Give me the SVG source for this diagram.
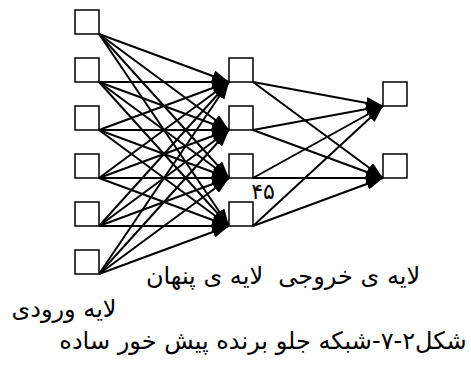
<svg xmlns="http://www.w3.org/2000/svg" width="471" height="365" viewBox="0 0 471 365">
  <style>
    .node { fill: #fff; stroke: #000; stroke-width: 1.5; }
    .edge { stroke: #000; stroke-width: 2; fill: none; marker-end: url(#arrow); }
    text { font-family: "DejaVu Sans", sans-serif; font-size: 24px; fill: #000; text-anchor: middle; }
    .fa { direction: rtl; }
    .num { font-size: 22px; }
  </style>
  <defs>
    <marker id="arrow" markerUnits="userSpaceOnUse" markerWidth="17" markerHeight="12" refX="17" refY="6" orient="auto">
      <path d="M0,0 L17,6 L0,12 z" fill="#000"/>
    </marker>
  </defs>

  <!-- connectors: input -> hidden, hidden -> output -->
  <g id="connectors">
    <line class="edge" x1="99" y1="34" x2="229" y2="82"/>
    <line class="edge" x1="99" y1="34" x2="229" y2="130"/>
    <line class="edge" x1="99" y1="34" x2="229" y2="178"/>
    <line class="edge" x1="99" y1="34" x2="229" y2="226"/>
    <line class="edge" x1="99" y1="82" x2="229" y2="82"/>
    <line class="edge" x1="99" y1="82" x2="229" y2="130"/>
    <line class="edge" x1="99" y1="82" x2="229" y2="178"/>
    <line class="edge" x1="99" y1="82" x2="229" y2="226"/>
    <line class="edge" x1="99" y1="130" x2="229" y2="82"/>
    <line class="edge" x1="99" y1="130" x2="229" y2="130"/>
    <line class="edge" x1="99" y1="130" x2="229" y2="178"/>
    <line class="edge" x1="99" y1="130" x2="229" y2="226"/>
    <line class="edge" x1="99" y1="178" x2="229" y2="82"/>
    <line class="edge" x1="99" y1="178" x2="229" y2="130"/>
    <line class="edge" x1="99" y1="178" x2="229" y2="178"/>
    <line class="edge" x1="99" y1="178" x2="229" y2="226"/>
    <line class="edge" x1="99" y1="226" x2="229" y2="82"/>
    <line class="edge" x1="99" y1="226" x2="229" y2="130"/>
    <line class="edge" x1="99" y1="226" x2="229" y2="178"/>
    <line class="edge" x1="99" y1="226" x2="229" y2="226"/>
    <line class="edge" x1="99" y1="274" x2="229" y2="82"/>
    <line class="edge" x1="99" y1="274" x2="229" y2="130"/>
    <line class="edge" x1="99" y1="274" x2="229" y2="178"/>
    <line class="edge" x1="99" y1="274" x2="229" y2="226"/>

    <line class="edge" x1="253" y1="82" x2="383" y2="106"/>
    <line class="edge" x1="253" y1="82" x2="383" y2="178"/>
    <line class="edge" x1="253" y1="130" x2="383" y2="106"/>
    <line class="edge" x1="253" y1="130" x2="383" y2="178"/>
    <line class="edge" x1="253" y1="178" x2="383" y2="106"/>
    <line class="edge" x1="253" y1="178" x2="383" y2="178"/>
    <line class="edge" x1="253" y1="226" x2="383" y2="106"/>
    <line class="edge" x1="253" y1="226" x2="383" y2="178"/>
  </g>

  <!-- input layer -->
  <g id="in1"><rect class="node" x="75" y="10" width="24" height="24"/></g>
  <g id="in2"><rect class="node" x="75" y="58" width="24" height="24"/></g>
  <g id="in3"><rect class="node" x="75" y="106" width="24" height="24"/></g>
  <g id="in4"><rect class="node" x="75" y="154" width="24" height="24"/></g>
  <g id="in5"><rect class="node" x="75" y="202" width="24" height="24"/></g>
  <g id="in6"><rect class="node" x="75" y="250" width="24" height="24"/></g>

  <!-- hidden layer -->
  <g id="hid1"><rect class="node" x="229" y="58" width="24" height="24"/></g>
  <g id="hid2"><rect class="node" x="229" y="106" width="24" height="24"/></g>
  <g id="hid3"><rect class="node" x="229" y="154" width="24" height="24"/></g>
  <g id="hid4"><rect class="node" x="229" y="202" width="24" height="24"/></g>

  <!-- output layer -->
  <g id="out1"><rect class="node" x="383" y="82" width="24" height="24"/></g>
  <g id="out2"><rect class="node" x="383" y="154" width="24" height="24"/></g>

  <!-- page number -->
  <text class="num" x="263" y="199">۴۵</text>

  <!-- layer labels -->
  <text id="label-layers" class="fa" x="283" y="284" xml:space="preserve">لایه ی خروجی  لایه ی پنهان</text>
  <text id="label-input" class="fa" x="64" y="317">لایه ورودی</text>

  <!-- caption -->
  <text id="caption" class="fa" x="263" y="349">شکل۲-۷-شبکه جلو برنده پیش خور ساده</text>
</svg>
